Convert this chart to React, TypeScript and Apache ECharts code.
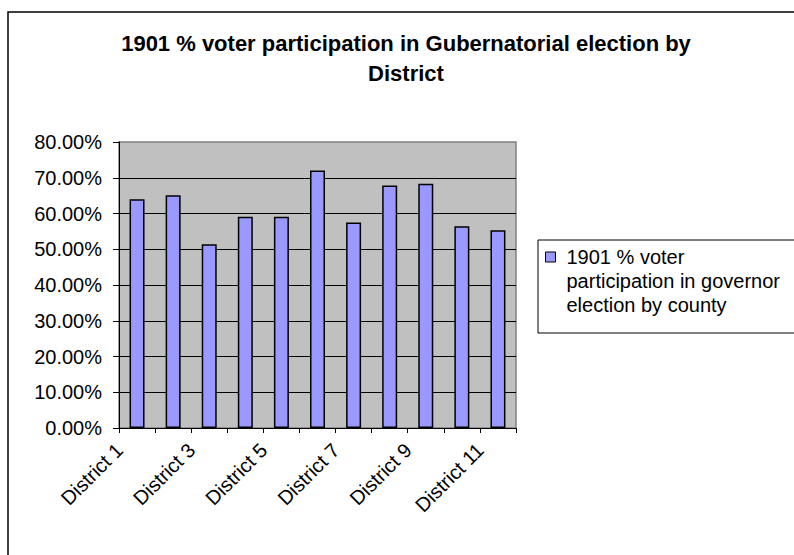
import React, { useEffect, useRef } from "react";
import * as echarts from "echarts";

const categories = [
  "District 1", "District 2", "District 3", "District 4", "District 5", "District 6",
  "District 7", "District 8", "District 9", "District 10", "District 11",
];
const participation = [64.0, 65.1, 51.4, 59.1, 59.1, 72.0, 57.5, 67.8, 68.3, 56.4, 55.3];
const seriesName = "1901 % voter participation in governor election by county";
const legendLabel = "\n\n1901 % voter\nparticipation in governor\nelection by county";
const titleText = "1901 % voter participation in Gubernatorial election by\nDistrict";
const yMin = 0;
const yMax = 80;
const yStep = 10;

const FONT = "'Liberation Sans', Arial, sans-serif";

export default function App() {
  const ref = useRef<HTMLDivElement>(null);
  useEffect(() => {
    if (!ref.current) return;
    const chart = echarts.init(ref.current, null, { renderer: "svg" });
    chart.setOption({
      animation: false,
      backgroundColor: "#ffffff",
      textStyle: { fontFamily: FONT },
      title: {
        text: titleText,
        left: 406,
        textAlign: "center",
        top: 28,
        padding: 0,
        textStyle: {
          fontFamily: FONT,
          fontSize: 22,
          fontWeight: "bold",
          lineHeight: 30,
          color: "#000",
        },
      },
      graphic: [
        {
          type: "rect",
          shape: { x: 8, y: 12, width: 820, height: 580 },
          style: { fill: "none", stroke: "#000", lineWidth: 1.5 },
          silent: true,
        },
        {
          type: "rect",
          shape: { x: 538, y: 240, width: 300, height: 93 },
          style: { fill: "none", stroke: "#000", lineWidth: 1 },
          silent: true,
        },
      ],
      legend: {
        left: 545,
        top: 197,
        padding: 0,
        itemWidth: 10,
        itemHeight: 10,
        icon: "rect",
        itemStyle: { color: "#9999FF", borderColor: "#000", borderWidth: 1 },
        formatter: () => legendLabel,
        textStyle: {
          fontFamily: FONT,
          fontSize: 20,
          lineHeight: 24,
          color: "#000",
          padding: [0, 0, 0, 6],
        },
        data: [seriesName],
      },
      grid: {
        left: 119,
        top: 142,
        width: 397,
        height: 286,
        show: true,
        backgroundColor: "#C0C0C0",
        borderColor: "#808080",
        borderWidth: 1.5,
      },
      xAxis: {
        type: "category",
        data: categories,
        boundaryGap: true,
        axisLine: { show: true, lineStyle: { color: "#000", width: 1 } },
        axisTick: { show: true, interval: 0, length: 5, lineStyle: { color: "#000" } },
        axisLabel: {
          interval: 1,
          rotate: 45,
          margin: 1,
          fontFamily: FONT,
          fontSize: 20,
          color: "#000",
          padding: [0, 25, 34, 0],
        },
        splitLine: { show: false },
      },
      yAxis: {
        type: "value",
        min: yMin,
        max: yMax,
        interval: yStep,
        axisLine: { show: true, lineStyle: { color: "#000", width: 1 } },
        axisTick: { show: true, length: 6, lineStyle: { color: "#000" } },
        axisLabel: {
          margin: 17,
          fontFamily: FONT,
          fontSize: 20,
          color: "#000",
          formatter: (v: number) => v.toFixed(2) + "%",
        },
        splitLine: {
          show: true,
          showMaxLine: false,
          showMinLine: false,
          lineStyle: { color: "#000", width: 1 },
        },
      },
      series: [
        {
          name: seriesName,
          type: "bar",
          data: participation,
          barWidth: 15,
          itemStyle: { color: "#9999FF", borderColor: "#000", borderWidth: 1.5 },
        },
      ],
    });
    return () => chart.dispose();
  }, []);
  return (
    <div
      ref={ref}
      style={{ position: "absolute", left: 0, top: 0, width: 794, height: 555 }}
    />
  );
}
